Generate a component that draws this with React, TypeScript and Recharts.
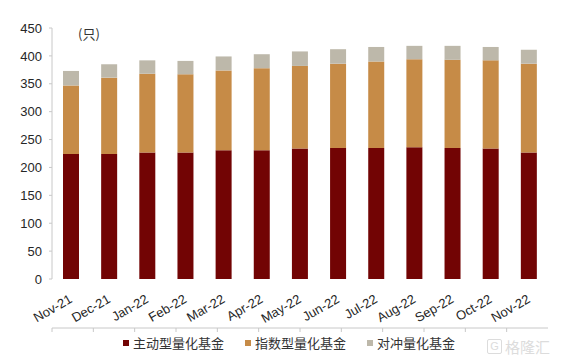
import React from "react";
import { Bar, BarChart, Legend, XAxis, YAxis } from "recharts";

const months = [
  "Nov-21", "Dec-21", "Jan-22", "Feb-22", "Mar-22", "Apr-22", "May-22",
  "Jun-22", "Jul-22", "Aug-22", "Sep-22", "Oct-22", "Nov-22",
];
const activeFunds = [224, 224, 227, 227, 231, 231, 234, 235, 235, 236, 235, 234, 227];
const indexFunds = [123, 137, 141, 140, 143, 147, 148, 151, 155, 158, 158, 158, 159];
const hedgeFunds = [26, 24, 24, 24, 25, 25, 26, 26, 26, 24, 25, 24, 25];
const yTicks = [0, 50, 100, 150, 200, 250, 300, 350, 400, 450];

const seriesNames = ["主动型量化基金", "指数型量化基金", "对冲量化基金"];
const seriesKeys = ["active", "index", "hedge"];
const seriesColors = ["#720404", "#c68b47", "#bdb8aa"];

const data = months.map((m, i) => ({
  month: m,
  active: activeFunds[i],
  index: indexFunds[i],
  hedge: hedgeFunds[i],
}));

// category boundaries for the Excel-style tick marks
const boundaries = months.map((_, i) => i).concat(months.length);

const FONT = "'Liberation Sans', Arial, 'Noto Sans CJK SC', sans-serif";
const CJK = "'Noto Sans CJK SC', 'Liberation Sans', sans-serif";

if (typeof document !== "undefined") document.body.style.margin = "0";

function MonthTick(props: any) {
  const { x, y, payload } = props;
  return (
    <g transform={`translate(${x - 3},${y + 6})`}>
      <text
        x={0}
        y={0}
        dy={10}
        textAnchor="end"
        transform="rotate(-30)"
        fontSize={13}
        fill="#262626"
        fontFamily={FONT}
      >
        {payload.value}
      </text>
    </g>
  );
}

function LegendContent() {
  return (
    <div
      style={{
        display: "flex",
        alignItems: "center",
        gap: 21,
        paddingLeft: 123,
        fontFamily: CJK,
        fontSize: 13,
        color: "#333",
      }}
    >
      {seriesNames.map((name, i) => (
        <div key={name} style={{ display: "flex", alignItems: "center" }}>
          <span
            style={{
              display: "inline-block",
              width: 6,
              height: 6,
              background: seriesColors[i],
              marginRight: 4,
            }}
          />
          {name}
        </div>
      ))}
    </div>
  );
}

export default function App() {
  return (
    <div style={{ position: "relative", width: 562, height: 362, background: "#fff" }}>
      <BarChart
        width={562}
        height={362}
        data={data}
        margin={{ top: 28, right: 14, bottom: 33, left: 0 }}
        barSize={16}
      >
        <XAxis
          xAxisId="bounds"
          type="number"
          domain={[0, months.length]}
          ticks={boundaries}
          height={1}
          axisLine={{ stroke: "#c8c8c8" }}
          tickLine={{ stroke: "#c8c8c8" }}
          tickSize={4}
          tick={() => <g />}
        />
        <XAxis
          dataKey="month"
          height={49}
          axisLine={false}
          tickLine={false}
          interval={0}
          tick={<MonthTick />}
        />
        <YAxis
          width={52}
          domain={[0, 450]}
          ticks={yTicks}
          axisLine={{ stroke: "#c8c8c8" }}
          tickLine={{ stroke: "#c8c8c8" }}
          tickSize={3}
          tickMargin={7}
          tick={{ fontSize: 13, fill: "#262626", fontFamily: FONT }}
        />
        <Legend
          layout="horizontal"
          verticalAlign="middle"
          align="center"
          wrapperStyle={{ top: 333, left: 0, width: 562 }}
          content={<LegendContent />}
        />
        {seriesKeys.map((k, i) => (
          <Bar
            key={k}
            dataKey={k}
            name={seriesNames[i]}
            stackId="a"
            fill={seriesColors[i]}
            isAnimationActive={false}
          />
        ))}
      </BarChart>
      <div
        style={{
          position: "absolute",
          left: 78,
          top: 24,
          fontFamily: CJK,
          fontSize: 13,
          color: "#333",
        }}
      >
        (只)
      </div>
      <div
        style={{
          position: "absolute",
          left: 487,
          top: 336,
          display: "flex",
          alignItems: "center",
          fontFamily: CJK,
          fontSize: 15,
          color: "#dcdcdc",
        }}
      >
        <span
          style={{
            border: "1px solid #dcdcdc",
            borderRadius: 2,
            width: 13,
            height: 13,
            fontSize: 11,
            lineHeight: "13px",
            textAlign: "center",
            marginRight: 3,
            fontFamily: FONT,
          }}
        >
          G
        </span>
        格隆汇
      </div>
    </div>
  );
}
